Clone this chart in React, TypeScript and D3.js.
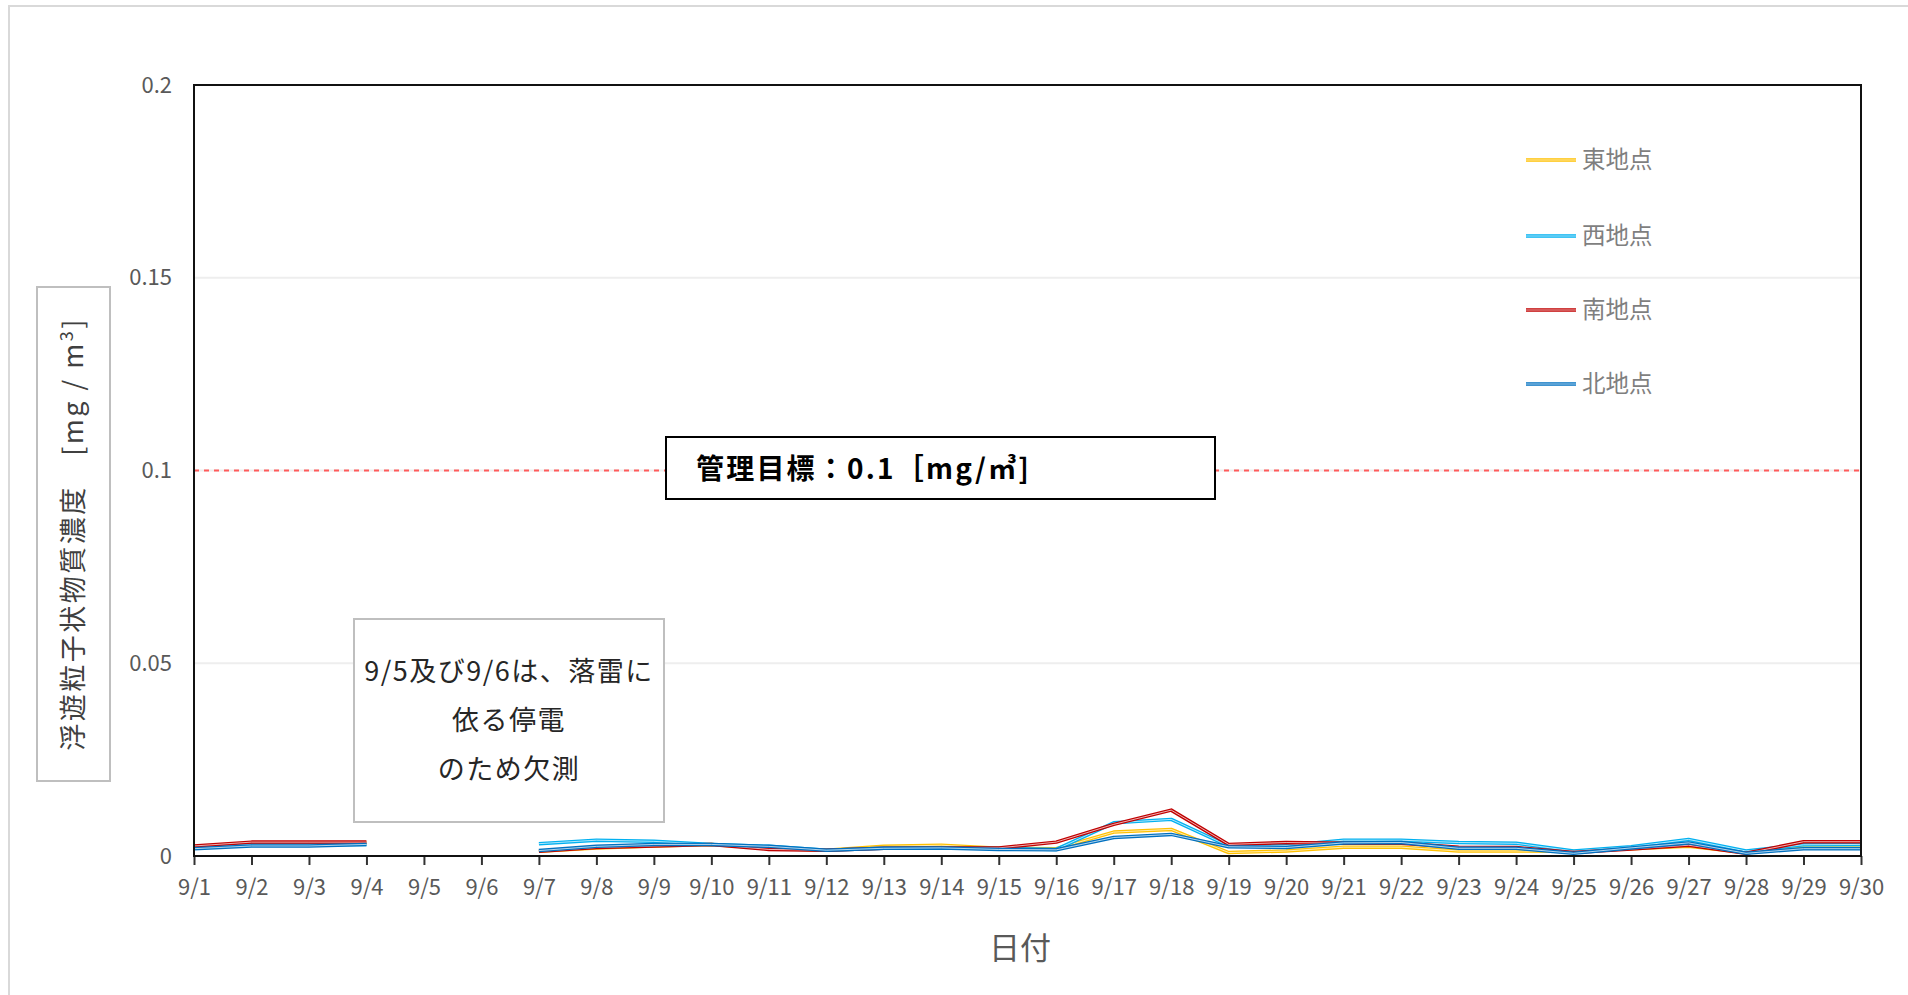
import React, { useEffect, useRef } from 'react';
import * as d3 from 'd3';

const days = [
  '9/1', '9/2', '9/3', '9/4', '9/5', '9/6', '9/7', '9/8', '9/9', '9/10',
  '9/11', '9/12', '9/13', '9/14', '9/15', '9/16', '9/17', '9/18', '9/19', '9/20',
  '9/21', '9/22', '9/23', '9/24', '9/25', '9/26', '9/27', '9/28', '9/29', '9/30',
];

// null = 欠測 (9/5, 9/6)
const east = [
  0.0023, 0.0034, 0.0034, 0.0034, null, null, 0.0012, 0.0021, 0.0026, 0.003,
  0.002, 0.0015, 0.0025, 0.0028, 0.002, 0.0019, 0.0062, 0.0069, 0.0009, 0.0013,
  0.0023, 0.0023, 0.0013, 0.0013, 0.0012, 0.0019, 0.0025, 0.0009, 0.0026, 0.0026,
];
const west = [
  0.0021, 0.003, 0.003, 0.003, null, null, 0.0032, 0.0041, 0.0038, 0.003,
  0.0025, 0.0015, 0.002, 0.0021, 0.002, 0.0017, 0.0086, 0.0095, 0.0026, 0.0027,
  0.0041, 0.0041, 0.0035, 0.0033, 0.0013, 0.0024, 0.0043, 0.0013, 0.0029, 0.003,
];
const south = [
  0.0026, 0.0036, 0.0036, 0.0036, null, null, 0.0012, 0.0022, 0.0026, 0.003,
  0.0017, 0.0015, 0.002, 0.0021, 0.0021, 0.0036, 0.0082, 0.0119, 0.003, 0.0035,
  0.0033, 0.0033, 0.0023, 0.0022, 0.0009, 0.0018, 0.0028, 0.0007, 0.0037, 0.0037,
];
const north = [
  0.0019, 0.0026, 0.0026, 0.003, null, null, 0.0014, 0.0025, 0.003, 0.003,
  0.0025, 0.0015, 0.002, 0.0021, 0.0017, 0.0016, 0.0048, 0.0056, 0.0024, 0.0022,
  0.0034, 0.0035, 0.002, 0.002, 0.0007, 0.0021, 0.0034, 0.0007, 0.0019, 0.0019,
];

const seriesNames = ['東地点', '西地点', '南地点', '北地点'];
const seriesValues = [east, west, south, north];
const seriesColors = ['#FFC000', '#00B0F0', '#C00000', '#0070C0'];
const yTicks = [0, 0.05, 0.1, 0.15, 0.2];
const target = 0.1;

const JP = '"Noto Sans CJK JP", "Noto Sans", sans-serif';

const App: React.FC = () => {
  const svgRef = useRef<SVGSVGElement | null>(null);

  useEffect(() => {
    document.body.style.margin = '0';
    if (!svgRef.current) return;
    const W = 1908;
    const H = 995;
    const margin = { top: 85, right: 47, bottom: 139, left: 194 };
    const svg = d3.select(svgRef.current).attr('width', W).attr('height', H);
    svg.selectAll('*').remove();

    // outer chart frame
    svg.append('rect').attr('x', 9).attr('y', 6).attr('width', W + 10).attr('height', H + 10)
      .attr('fill', '#fff').attr('stroke', '#d9d9d9').attr('stroke-width', 2);

    const x = d3.scalePoint<string>().domain(days).range([margin.left, W - margin.right]);
    const y = d3.scaleLinear().domain([0, 0.2]).range([H - margin.bottom, margin.top]);
    const x0 = margin.left;
    const x1 = W - margin.right;

    // gridlines
    svg.append('g').selectAll('line').data(yTicks.slice(1, -1)).join('line')
      .attr('x1', x0).attr('x2', x1).attr('y1', d => y(d)).attr('y2', d => y(d))
      .attr('stroke', '#eeeeee').attr('stroke-width', 2);

    // y tick labels
    svg.append('g').selectAll('text').data(yTicks).join('text')
      .attr('x', x0 - 22).attr('y', d => y(d)).attr('dy', '0.35em')
      .attr('text-anchor', 'end').attr('font-family', JP).attr('font-size', 22)
      .attr('fill', '#595959').text(d => String(d));

    // target line
    svg.append('line').attr('x1', x0).attr('x2', x1).attr('y1', y(target)).attr('y2', y(target))
      .attr('stroke', '#FF5B5B').attr('stroke-width', 2).attr('stroke-dasharray', '5,5');

    // x axis
    const xAxis = svg.append('g').attr('transform', `translate(0,${y(0)})`)
      .call(d3.axisBottom(x).tickSizeOuter(0).tickSizeInner(9).tickPadding(14));
    xAxis.select('.domain').remove();
    xAxis.selectAll('line').attr('stroke', '#333').attr('stroke-width', 2);
    xAxis.selectAll('text').attr('font-family', JP).attr('font-size', 22).attr('fill', '#595959');

    // series lines (double-line style)
    const line = d3.line<number | null>()
      .defined(d => d !== null)
      .x((_, i) => x(days[i])!)
      .y(d => y(d as number));
    seriesValues.forEach((vals, si) => {
      svg.append('path').datum(vals).attr('d', line).attr('fill', 'none')
        .attr('stroke', seriesColors[si]).attr('stroke-width', 3.5).attr('stroke-linejoin', 'round');
      svg.append('path').datum(vals).attr('d', line).attr('fill', 'none')
        .attr('stroke', '#fff').attr('stroke-opacity', 0.7).attr('stroke-width', 1);
    });

    // plot frame
    svg.append('rect').attr('x', x0).attr('y', y(0.2)).attr('width', x1 - x0).attr('height', y(0) - y(0.2))
      .attr('fill', 'none').attr('stroke', '#111').attr('stroke-width', 2);

    // legend
    const legY = [160, 236, 310, 384];
    seriesNames.forEach((name, i) => {
      const g = svg.append('g').attr('transform', `translate(1526,${legY[i]})`);
      g.append('line').attr('x1', 0).attr('x2', 50).attr('y1', 0).attr('y2', 0)
        .attr('stroke', seriesColors[i]).attr('stroke-width', 3.5);
      g.append('line').attr('x1', 0).attr('x2', 50).attr('y1', 0).attr('y2', 0)
        .attr('stroke', '#fff').attr('stroke-opacity', 0.7).attr('stroke-width', 1);
      g.append('text').attr('x', 56).attr('dy', '0.35em').attr('font-family', JP)
        .attr('font-size', 23.5).attr('fill', '#7f7f7f').text(name);
    });

    // target label box
    svg.append('rect').attr('x', 666).attr('y', 437).attr('width', 549).attr('height', 62)
      .attr('fill', '#fff').attr('stroke', '#000').attr('stroke-width', 2);
    svg.append('text').attr('x', 696).attr('y', 469).attr('dy', '0.35em')
      .attr('font-family', JP).attr('font-size', 28).attr('font-weight', 'bold')
      .attr('letter-spacing', 2.2).attr('fill', '#000').text('管理目標：0.1［mg/㎥]');

    // missing-data note
    svg.append('rect').attr('x', 354).attr('y', 619).attr('width', 310).attr('height', 203)
      .attr('fill', '#fff').attr('stroke', '#bfbfbf').attr('stroke-width', 2);
    ['9/5及び9/6は、落雷に', '依る停電', 'のため欠測'].forEach((t, i) => {
      svg.append('text').attr('x', 509).attr('y', 672 + i * 49).attr('dy', '0.35em')
        .attr('text-anchor', 'middle').attr('font-family', JP).attr('font-size', 27)
        .attr('letter-spacing', 1.5).attr('fill', '#262626').text(t);
    });

    // y axis title box
    svg.append('rect').attr('x', 37).attr('y', 287).attr('width', 73).attr('height', 494)
      .attr('fill', '#fff').attr('stroke', '#bfbfbf').attr('stroke-width', 2);
    const yt = svg.append('text').attr('transform', 'translate(74,534) rotate(-90)')
      .attr('text-anchor', 'middle').attr('dy', '0.35em').attr('font-family', JP)
      .attr('font-size', 27).attr('letter-spacing', 2.5).attr('fill', '#404040');
    yt.append('tspan').text('浮遊粒子状物質濃度　[mg / m');
    yt.append('tspan').attr('font-size', 18).attr('dy', '-0.6em').text('3');
    yt.append('tspan').attr('dy', '0.4em').text(']');

    // x axis title
    svg.append('text').attr('x', 1020).attr('y', 948).attr('dy', '0.35em')
      .attr('text-anchor', 'middle').attr('font-family', JP).attr('font-size', 31)
      .attr('fill', '#595959').text('日付');
  }, []);

  return <svg ref={svgRef} style={{ display: 'block' }} />;
};

export default App;
